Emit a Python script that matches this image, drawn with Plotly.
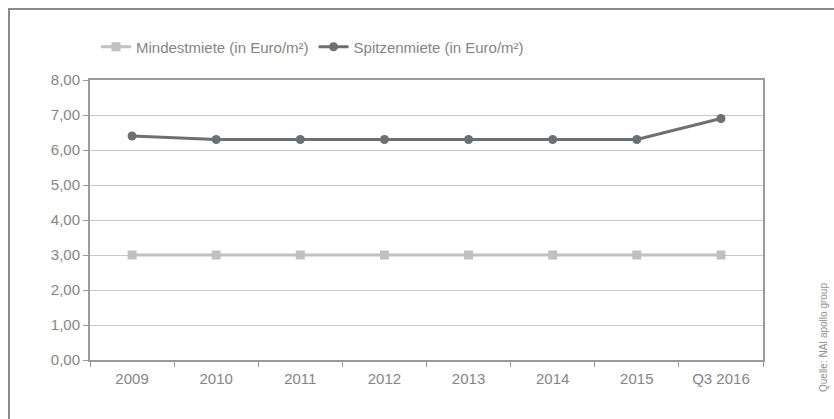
import plotly.graph_objects as go

categories = ["2009", "2010", "2011", "2012", "2013", "2014", "2015", "Q3 2016"]
mindestmiete = [3.0, 3.0, 3.0, 3.0, 3.0, 3.0, 3.0, 3.0]
spitzenmiete = [6.4, 6.3, 6.3, 6.3, 6.3, 6.3, 6.3, 6.9]
y_ticks = [0, 1, 2, 3, 4, 5, 6, 7, 8]

W, H = 834, 419
L, R, T, B = 90, 71, 80, 59
pw, ph = W - L - R, H - T - B

def px_x(p):
    return (p - L) / pw

def px_y(p):
    return (H - B - p) / ph

font_fam = "Liberation Sans, Arial, sans-serif"
txt_col = "#858585"

fig = go.Figure()
fig.add_trace(go.Scatter(
    x=categories, y=mindestmiete, name="Mindestmiete (in Euro/m²)",
    mode="lines+markers",
    line=dict(color="#c0c0c0", width=3),
    marker=dict(symbol="square", size=9, color="#c0c0c0"),
))
fig.add_trace(go.Scatter(
    x=categories, y=spitzenmiete, name="Spitzenmiete (in Euro/m²)",
    mode="lines+markers",
    line=dict(color="#6b7075", width=3),
    marker=dict(symbol="circle", size=9, color="#6b7075"),
))

fig.update_layout(
    width=W, height=H,
    margin=dict(l=L, r=R, t=T, b=B),
    paper_bgcolor="white", plot_bgcolor="white",
    separators=",.",
    font=dict(family=font_fam, size=15, color=txt_col),
    showlegend=True,
    legend=dict(orientation="h", x=px_x(96), y=px_y(47), xanchor="left", yanchor="middle",
                font=dict(size=15, color=txt_col), itemwidth=30,
                bgcolor="rgba(0,0,0,0)"),
    xaxis=dict(
        type="category", range=[-0.5, len(categories) - 0.5],
        showline=True, linecolor="#9a9a9a", linewidth=2, mirror=True,
        ticks="outside", tickson="boundaries", ticklen=5, tickcolor="#9a9a9a",
        ticklabelstandoff=4,
        showgrid=False, tickfont=dict(size=15, color=txt_col),
    ),
    yaxis=dict(
        range=[0, 8], tickvals=y_ticks, tickformat=".2f",
        showline=True, linecolor="#9a9a9a", linewidth=2, mirror=True,
        ticks="outside", ticklen=5, tickcolor="#9a9a9a",
        showgrid=True, gridcolor="#c8c8c8", gridwidth=1,
        zeroline=False, tickfont=dict(size=15, color=txt_col),
    ),
    shapes=[dict(
        type="rect", xref="paper", yref="paper",
        x0=px_x(9), x1=px_x(900), y0=px_y(500), y1=px_y(9),
        line=dict(color="#8a8a8a", width=2), layer="above",
    )],
    annotations=[dict(
        text="Quelle: NAI apollo group", xref="paper", yref="paper",
        x=px_x(823), y=px_y(337), textangle=-90, showarrow=False,
        font=dict(size=10, color="#909090"), xanchor="center", yanchor="middle",
    )],
)

fig.write_html("out.html")
